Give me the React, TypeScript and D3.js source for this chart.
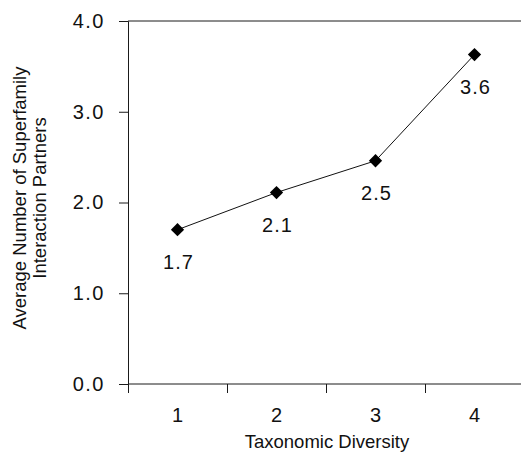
import React, {useEffect, useRef} from 'react'
import * as d3 from 'd3'

// taxonomic diversity categories on the x axis
const categories = ['1', '2', '3', '4']
// average number of superfamily interaction partners
const partners = [1.7, 2.11, 2.46, 3.63]
const yTicks = [0, 1, 2, 3, 4]

const width = 521
const height = 454
const font = 'Arial, "Liberation Sans", Helvetica, sans-serif'

const App = () => {
  const ref = useRef(null)

  useEffect(() => {
    const svg = d3.select(ref.current)
    svg.selectAll('*').remove()

    const x = d3.scaleBand().domain(categories).range([128, 524])
    const y = d3.scaleLinear().domain([0, 4]).range([384, 21])
    const cx = (d) => x(d) + x.bandwidth() / 2

    // left axis with ticks pointing out
    const yAxis = svg
      .append('g')
      .attr('transform', 'translate(128,0)')
      .call(
        d3
          .axisLeft(y)
          .tickValues(yTicks)
          .tickSize(9)
          .tickPadding(14)
          .tickFormat(d3.format('.1f'))
      )
    yAxis.select('.domain').attr('stroke', '#1a1a1a')
    yAxis.selectAll('line').attr('stroke', '#1a1a1a')
    yAxis
      .selectAll('text')
      .attr('font-family', font)
      .attr('font-size', 20)
      .attr('letter-spacing', 1.5)
      .attr('fill', '#111')

    // frame lines top and bottom
    svg
      .append('line')
      .attr('x1', 128)
      .attr('x2', 524)
      .attr('y1', y(4))
      .attr('y2', y(4))
      .attr('stroke', '#1a1a1a')
    svg
      .append('line')
      .attr('x1', 128)
      .attr('x2', 524)
      .attr('y1', y(0))
      .attr('y2', y(0))
      .attr('stroke', '#1a1a1a')

    // x ticks sit on the band edges, labels in the middle
    svg
      .selectAll('line.xtick')
      .data(categories)
      .join('line')
      .attr('class', 'xtick')
      .attr('x1', (d) => x(d) + 0.5)
      .attr('x2', (d) => x(d) + 0.5)
      .attr('y1', y(0))
      .attr('y2', y(0) + 9)
      .attr('stroke', '#1a1a1a')
    svg
      .selectAll('text.xlabel')
      .data(categories)
      .join('text')
      .attr('class', 'xlabel')
      .attr('x', cx)
      .attr('y', 422)
      .attr('text-anchor', 'middle')
      .attr('font-family', font)
      .attr('font-size', 20)
      .attr('fill', '#111')
      .text((d) => d)

    svg
      .append('text')
      .attr('x', 327)
      .attr('y', 448)
      .attr('text-anchor', 'middle')
      .attr('font-family', font)
      .attr('font-size', 18.5)
      .attr('fill', '#111')
      .text('Taxonomic Diversity')

    const title = svg
      .append('text')
      .attr('transform', 'translate(0,198) rotate(-90)')
      .attr('text-anchor', 'middle')
      .attr('font-family', font)
      .attr('font-size', 18.5)
      .attr('fill', '#111')
    title.append('tspan').attr('x', 0).attr('y', 26).text('Average Number of Superfamily')
    title.append('tspan').attr('x', 0).attr('y', 46).text('Interaction Partners')

    const points = categories.map((c, i) => ({c, v: partners[i]}))

    const line = d3
      .line()
      .x((d) => cx(d.c))
      .y((d) => y(d.v))
    svg
      .append('path')
      .datum(points)
      .attr('d', line)
      .attr('fill', 'none')
      .attr('stroke', '#111')
      .attr('stroke-width', 1)

    const diamond = d3.symbol(d3.symbolSquare, 88)
    svg
      .selectAll('path.marker')
      .data(points)
      .join('path')
      .attr('class', 'marker')
      .attr('d', diamond)
      .attr('transform', (d) => `translate(${cx(d.c)},${y(d.v)}) rotate(45)`)
      .attr('fill', '#000')

    svg
      .selectAll('text.value')
      .data(points)
      .join('text')
      .attr('class', 'value')
      .attr('x', (d) => cx(d.c) + 1)
      .attr('y', (d) => y(d.v) + 39)
      .attr('text-anchor', 'middle')
      .attr('font-family', font)
      .attr('font-size', 20)
      .attr('letter-spacing', 1)
      .attr('fill', '#111')
      .text((d) => d3.format('.1f')(d.v))
  }, [])

  return (
    <svg
      ref={ref}
      width={width}
      height={height}
      style={{position: 'absolute', left: 0, top: 0, background: '#fff'}}
    />
  )
}

export default App
